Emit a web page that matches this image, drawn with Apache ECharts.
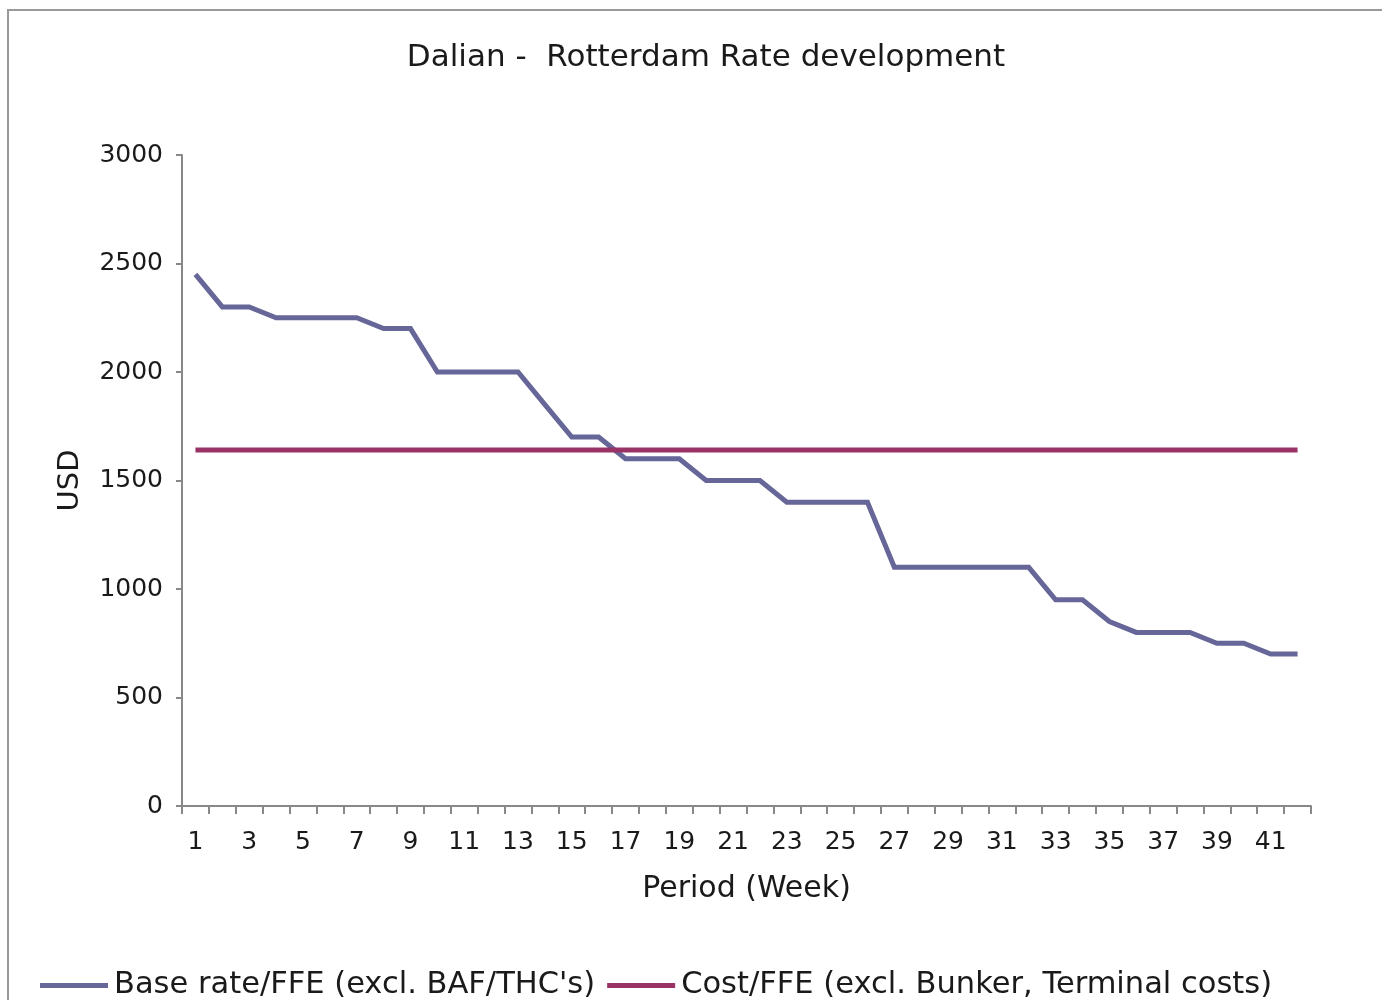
<!DOCTYPE html>
<html>
<head>
<meta charset="utf-8">
<script src="https://cdn.jsdelivr.net/npm/echarts@6/dist/echarts.min.js"></script>
<style>
html,body{margin:0;padding:0;background:#fff;}
#chart{width:1382px;height:1000px;}
</style>
</head>
<body>
<div id="chart"></div>
<script>
const weeks = ['1','2','3','4','5','6','7','8','9','10','11','12','13','14','15','16','17','18','19','20','21','22','23','24','25','26','27','28','29','30','31','32','33','34','35','36','37','38','39','40','41','42'];
const baseRate = [2450,2300,2300,2250,2250,2250,2250,2200,2200,2000,2000,2000,2000,1850,1700,1700,1600,1600,1600,1500,1500,1500,1400,1400,1400,1400,1100,1100,1100,1100,1100,1100,950,950,850,800,800,800,750,750,700,700];
const costValue = 1640;
const cost = weeks.map(() => costValue);
const yTicks = [0,500,1000,1500,2000,2500,3000];

const FONT = 'DejaVu Sans';
const chart = echarts.init(document.getElementById('chart'));
chart.setOption({
  animation: false,
  backgroundColor: '#fff',
  title: {
    text: 'Dalian -  Rotterdam Rate development',
    left: 701, top: 37, textAlign: 'center',
    textStyle: {fontFamily: FONT, fontSize: 31, fontWeight: 'normal', color: '#1a1a1a'}
  },
  graphic: [{
    type: 'rect', shape: {x: 8, y: 10, width: 1400, height: 1000},
    style: {fill: 'none', stroke: '#999', lineWidth: 2}, silent: true, z: -1
  }],
  grid: {left: 182, right: 71, top: 155, bottom: 194, containLabel: false},
  legend: {
    left: 35, top: 965,
    itemWidth: 68, itemHeight: 5, itemGap: 12, icon: 'rect',
    textStyle: {fontFamily: FONT, fontSize: 30.5, color: '#1a1a1a', padding: [0, 0, 0, 1]},
    data: ['Base rate/FFE (excl. BAF/THC\'s)', 'Cost/FFE (excl. Bunker, Terminal costs)']
  },
  xAxis: {
    type: 'category', data: weeks, boundaryGap: true,
    name: 'Period (Week)', nameLocation: 'middle', nameGap: 68,
    nameTextStyle: {fontFamily: FONT, fontSize: 30, color: '#1a1a1a'},
    axisLine: {lineStyle: {color: '#888', width: 2}},
    axisTick: {show: true, interval: 0, length: 8, inside: false, lineStyle: {color: '#888', width: 2}},
    axisLabel: {interval: 1, margin: 24, fontFamily: FONT, fontSize: 25, color: '#1a1a1a'}
  },
  yAxis: {
    type: 'value', min: 0, max: 3000, interval: 500,
    name: 'USD', nameLocation: 'middle', nameGap: 97, nameRotate: 90,
    nameTextStyle: {fontFamily: FONT, fontSize: 29, color: '#1a1a1a'},
    axisLine: {show: true, lineStyle: {color: '#888', width: 2}},
    axisTick: {show: true, length: 6, lineStyle: {color: '#888', width: 2}},
    splitLine: {show: false},
    axisLabel: {margin: 19, fontFamily: FONT, fontSize: 25, color: '#1a1a1a',
      formatter: v => yTicks.includes(v) ? String(v) : ''}
  },
  series: [
    {
      name: 'Base rate/FFE (excl. BAF/THC\'s)', type: 'line', data: baseRate,
      symbol: 'none', lineStyle: {color: '#666699', width: 5, join: 'miter'},
      itemStyle: {color: '#666699'}
    },
    {
      name: 'Cost/FFE (excl. Bunker, Terminal costs)', type: 'line', data: cost,
      symbol: 'none', lineStyle: {color: '#993366', width: 5},
      itemStyle: {color: '#993366'}
    }
  ]
});
</script>
</body>
</html>
